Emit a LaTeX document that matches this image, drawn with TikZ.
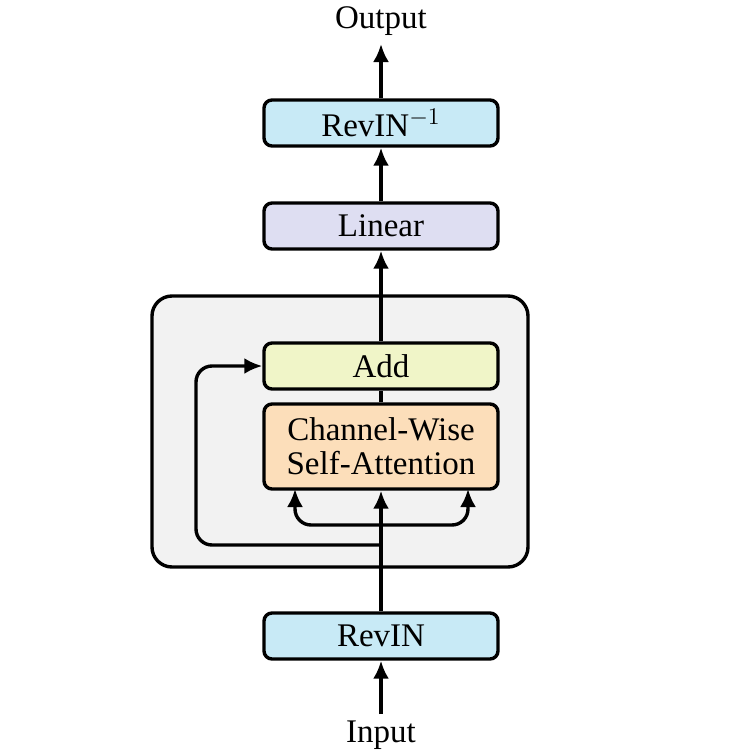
\documentclass[tikz,border=0pt]{standalone}
\usepackage{fontspec}
\setmainfont{Liberation Serif}
\usetikzlibrary{arrows.meta}
\definecolor{revinbg}{RGB}{200,234,246}
\definecolor{linearbg}{RGB}{222,222,242}
\definecolor{addbg}{RGB}{240,245,200}
\definecolor{cwbg}{RGB}{252,222,186}
\definecolor{outerbg}{RGB}{242,242,242}
\begin{document}
\begin{tikzpicture}[x=0.5pt,y=-0.5pt,
  box/.style={draw, line width=1.7pt, rounded corners=4pt, minimum width=117pt,
    minimum height=23pt, inner sep=0pt, font=\fontsize{16.5}{18}\selectfont, align=center},
  lbl/.style={inner sep=0pt, font=\fontsize{16.5}{18}\selectfont},
  conn/.style={line width=1.7pt},
  arr/.style={conn, -{Latex[length=9pt,width=8pt]}}]
\useasboundingbox (0,0) rectangle (755,755);
\node[draw, line width=1.7pt, rounded corners=10pt, fill=outerbg,
  minimum width=188pt, minimum height=135.5pt, inner sep=0pt] (outer) at (340,431.5) {};
\node[lbl] (output) at (381,21) {Output};
\node[box, fill=revinbg] (revinv) at (381,123) {RevIN$^{-1}$};
\node[box, fill=linearbg] (linear) at (381,226) {Linear};
\node[box, fill=addbg] (add) at (381,366) {Add};
\node[box, fill=cwbg, minimum height=42.5pt] (cw) at (381,446.5) {Channel-Wise\\[-1pt]Self-Attention};
\node[box, fill=revinbg] (revin) at (381,636) {RevIN};
\node[lbl] (input) at (381,735) {Input};
\coordinate (outtip) at (381,44);
\coordinate (inbot) at (381,714);
\coordinate (split) at (381,525);
\coordinate (cwl) at (295,489);
\coordinate (cwr) at (468,489);
\coordinate (res) at (381,545);
\coordinate (resc) at (196,366);
\draw[arr] (inbot) -- (revin.south);
\draw[arr] (revin.north) -- (cw.south);
\draw[arr, rounded corners=8pt] (split) -| (cwl);
\draw[arr, rounded corners=8pt] (split) -| (cwr);
\draw[arr, rounded corners=8pt] (res) -| (resc) -- (add.west);
\draw[conn] (cw.north) -- (add.south);
\draw[arr] (add.north) -- (linear.south);
\draw[arr] (linear.north) -- (revinv.south);
\draw[arr] (revinv.north) -- (outtip);
\end{tikzpicture}
\end{document}
